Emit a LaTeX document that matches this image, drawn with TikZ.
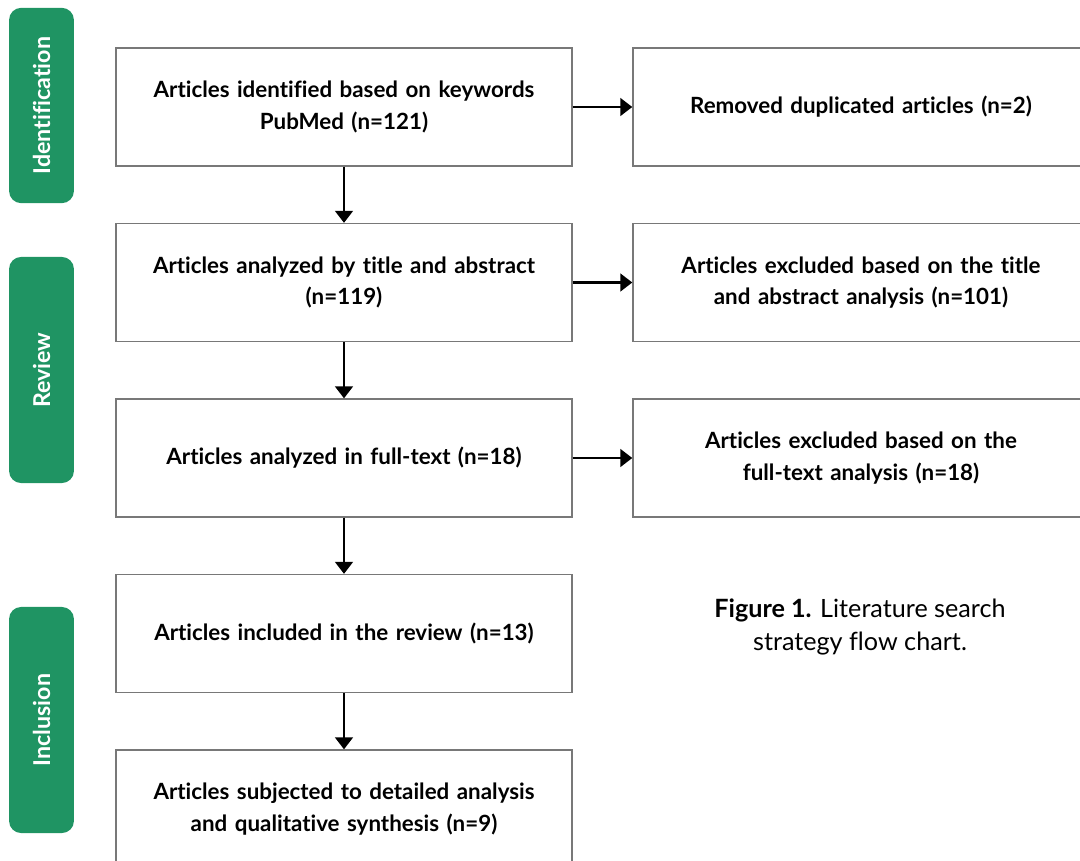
\documentclass[tikz,border=0pt]{standalone}
\usepackage{fontspec}
\setmainfont{Lato}[Ligatures={NoCommon}]
\usepackage{tikz}
\usetikzlibrary{arrows.meta, positioning}
\definecolor{stageGreen}{RGB}{31,148,99}
\definecolor{boxGray}{RGB}{120,120,120}

\begin{document}
\begin{tikzpicture}[
    x=0.025cm, y=-0.025cm,
    stepbox/.style={rectangle, draw=boxGray, line width=0.9pt, minimum width=11.4cm, minimum height=2.95cm, text width=10.9cm, align=center, font=\bfseries\fontsize{15.9}{22.5}\selectfont},
    stage/.style={rectangle, fill=stageGreen, rounded corners=0.3cm, minimum height=1.62cm, text=white, font=\bfseries\fontsize{16.5}{18}\selectfont, rotate=90},
    arrow/.style={-{Triangle[length=0.3cm, width=0.44cm]}, line width=2pt, black}
]
\useasboundingbox (0,0) rectangle (1080,861);
\clip (0,0) rectangle (1080,861);
% stages
\node[stage, minimum width=4.88cm] (ident) at (41.5,105.5) {Identification};
\node[stage, minimum width=5.65cm] (review) at (41.5,370) {Review};
\node[stage, minimum width=5.65cm] (incl) at (41.5,720) {Inclusion};
% main column
\node[stepbox] (found) at (344,107) {Articles identified based on keywords\\ PubMed (n=121)};
\node[stepbox] (screen) at (344,282.5) {Articles analyzed by title and abstract\\ (n=119)};
\node[stepbox] (full) at (344,458) {Articles analyzed in full-text (n=18)};
\node[stepbox] (incl-rev) at (344,633.5) {Articles included in the review (n=13)};
\node[stepbox] (synth) at (344,809) {Articles subjected to detailed analysis\\ and qualitative synthesis (n=9)};
% excluded column
\node[stepbox] (dupl) at (861,107) {Removed duplicated articles (n=2)};
\node[stepbox] (excl-ta) at (861,282.5) {Articles excluded based on the title\\ and abstract analysis (n=101)};
\node[stepbox] (excl-ft) at (861,458) {Articles excluded based on the\\ full-text analysis (n=18)};
% caption
\node[align=center, font=\fontsize{17.9}{23.5}\selectfont] (caption) at (860,627) {\textbf{Figure 1.} Literature search\\ strategy flow chart.};
\draw[arrow] (found) -- (screen);
\draw[arrow] (screen) -- (full);
\draw[arrow] (full) -- (incl-rev);
\draw[arrow] (incl-rev) -- (synth);
\draw[arrow] (found) -- (dupl);
\draw[arrow] (screen) -- (excl-ta);
\draw[arrow] (full) -- (excl-ft);
\end{tikzpicture}
\end{document}
